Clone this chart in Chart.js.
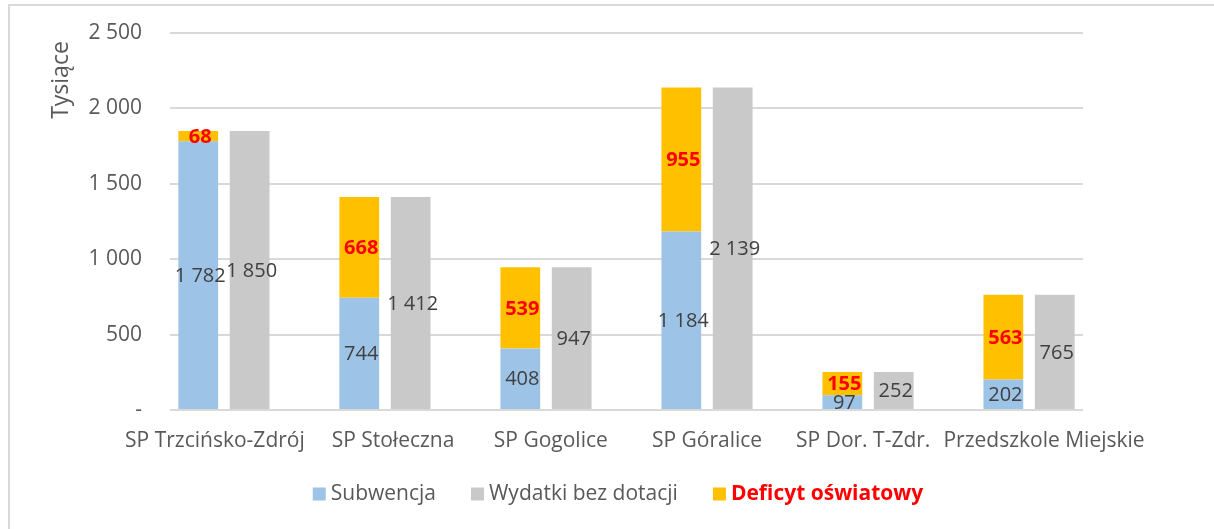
<!DOCTYPE html>
<html><head><meta charset="utf-8">
<script src="https://cdn.jsdelivr.net/npm/chart.js@4.4.1/dist/chart.umd.min.js"></script>
<style>
html,body{margin:0;padding:0;background:#fff;overflow:hidden;width:1214px;height:529px}
#frame{position:absolute;left:8px;top:4px;width:1400px;height:800px;border-left:2px solid #d9d9d9;border-top:2px solid #d9d9d9;box-sizing:border-box}
#wrap{position:absolute;left:0;top:0;width:1214px;height:529px}
</style></head><body>
<div id="frame"></div>
<div id="wrap"><canvas id="c" width="1214" height="529"></canvas></div>
<script>
const categories = ['SP Trzcińsko-Zdrój','SP Stołeczna','SP Gogolice','SP Góralice','SP Dor. T-Zdr.','Przedszkole Miejskie'];
const subwencja = [1782, 744, 408, 1184, 97, 202];
const wydatki   = [1850, 1412, 947, 2139, 252, 765];
const deficyt   = [68, 668, 539, 955, 155, 563];
const seriesNames = ['Subwencja','Wydatki bez dotacji','Deficyt oświatowy'];
const yTickValues = [0, 500, 1000, 1500, 2000, 2500];
const yTitle = 'Tysiące';

const FONT = '"Open Sans", "Noto Sans", sans-serif';
// small horizontal nudges of category labels (layout only, in category units)
const labelNudge = [-0.056, 0.05, 0.03, 0, -0.03, 0.093];
function fmt(v){ return v === 0 ? '-' : String(v).replace(/\B(?=(\d{3})+(?!\d))/g, ' '); }
const toXY = arr => arr.map((v,i)=>({x:i, y:v}));

const valueLabels = {
  id:'valueLabels',
  afterDatasetsDraw(chart){
    const ctx = chart.ctx;
    chart.data.datasets.forEach((ds,di)=>{
      const meta = chart.getDatasetMeta(di);
      if (meta.hidden) return;
      meta.data.forEach((el,i)=>{
        const v = ds.data[i].y;
        const p = el.getProps(['x','y','base'], true);
        ctx.save();
        ctx.font = ds.labelFont;
        ctx.fillStyle = ds.labelColor;
        ctx.textAlign = 'center';
        ctx.textBaseline = 'middle';
        ctx.fillText(fmt(v), p.x + 2, (p.y + p.base)/2 + 1);
        ctx.restore();
      });
    });
  }
};

const customDecor = {
  id:'customDecor',
  afterDraw(chart){
    const ctx = chart.ctx;
    ctx.save();
    ctx.translate(61, 80);
    ctx.rotate(-Math.PI/2);
    ctx.font = '23px ' + FONT;
    ctx.fillStyle = '#595959';
    ctx.textAlign = 'center';
    ctx.textBaseline = 'middle';
    ctx.fillText(yTitle, 0, 0);
    ctx.restore();
    const items = chart.data.datasets.map(ds=>({text:ds.label, color:ds.backgroundColor, font:ds.legendFont, fc:ds.legendColor}));
    const box = 13, gapText = 5, gapItem = 35;
    let total = 0;
    items.forEach(it=>{ ctx.font = it.font; it.w = ctx.measureText(it.text).width; total += box + gapText + it.w; });
    total += gapItem*(items.length-1);
    let x = 618 - total/2;
    const cy = 494;
    items.forEach(it=>{
      ctx.save();
      ctx.fillStyle = it.color;
      ctx.fillRect(x, cy - box/2, box, box);
      x += box + gapText;
      ctx.font = it.font;
      ctx.fillStyle = it.fc;
      ctx.textAlign='left';
      ctx.textBaseline='middle';
      ctx.fillText(it.text, x, cy);
      x += it.w + gapItem;
      ctx.restore();
    });
  }
};

new Chart(document.getElementById('c'), {
  type:'bar',
  data:{
    datasets:[
      {label:seriesNames[0], data:toXY(subwencja), backgroundColor:'#9dc3e6', stack:'a',
       labelFont:'20px '+FONT, labelColor:'#404040', legendFont:'21px '+FONT, legendColor:'#595959'},
      {label:seriesNames[1], data:toXY(wydatki), backgroundColor:'#c9c9c9', stack:'b',
       labelFont:'20px '+FONT, labelColor:'#404040', legendFont:'21px '+FONT, legendColor:'#595959'},
      {label:seriesNames[2], data:toXY(deficyt), backgroundColor:'#ffc000', stack:'a',
       labelFont:'bold 20px '+FONT, labelColor:'#ff0000', legendFont:'bold 21px '+FONT, legendColor:'#ff0000'}
    ]
  },
  options:{
    responsive:false,
    animation:false,
    categoryPercentage:0.658,
    barPercentage:0.774,
    layout:{padding:{left:70, right:131, top:33, bottom:69}},
    plugins:{legend:{display:false}, tooltip:{enabled:false}},
    scales:{
      x:{
        type:'linear', stacked:true, offset:false,
        min:-0.335, max:5.335,
        afterBuildTicks(scale){ scale.ticks = categories.map((c,i)=>({value:i + labelNudge[i]})); },
        afterFit(scale){ scale.height = 50; scale.paddingLeft = 0; scale.paddingRight = 0; },
        grid:{display:false, drawTicks:false},
        border:{display:false},
        ticks:{autoSkip:false, maxRotation:0, minRotation:0, padding:18,
          color:'#595959', font:{family:FONT, size:21},
          callback:(v, i)=>categories[i]}
      },
      y:{
        stacked:true, min:0, max:2500,
        afterBuildTicks(scale){ scale.ticks = yTickValues.map(v=>({value:v})); },
        afterFit(scale){ scale.width = 100; scale.paddingTop = 0; scale.paddingBottom = 0; },
        grid:{color:'#d9d9d9', lineWidth:2, drawTicks:false},
        border:{display:false},
        ticks:{padding:28, color:'#595959', font:{family:FONT, size:21}, callback:(v)=>fmt(v)}
      }
    }
  },
  plugins:[valueLabels, customDecor]
});
</script>
</body></html>
